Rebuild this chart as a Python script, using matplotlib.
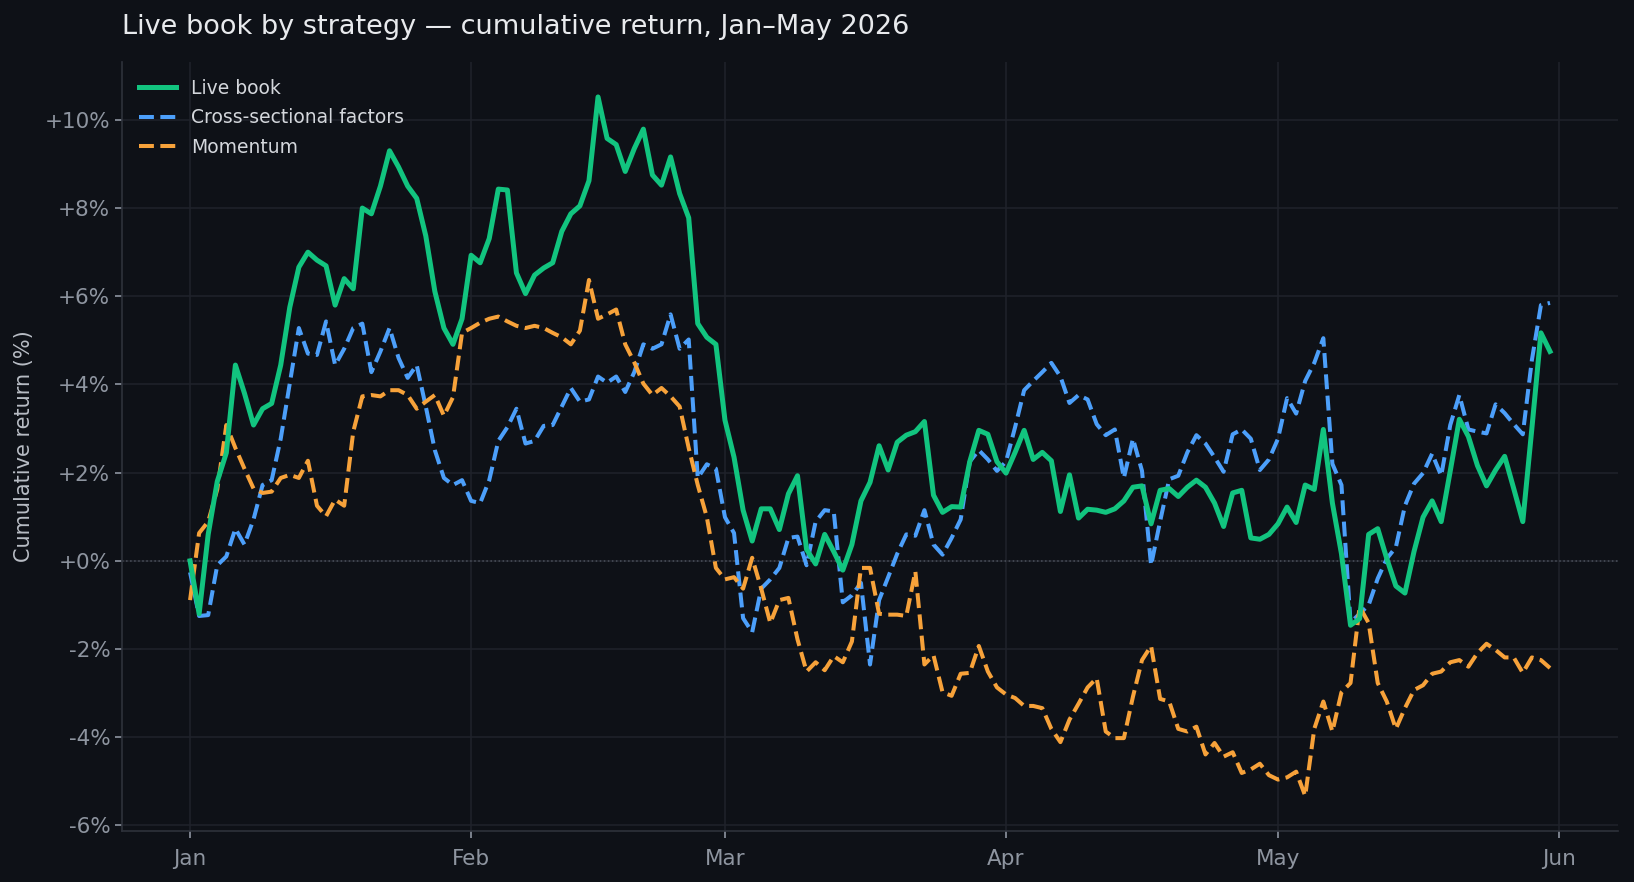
import pandas as pd
import matplotlib
matplotlib.use("Agg")
import matplotlib.pyplot as plt
import matplotlib.dates as mdates
from matplotlib.ticker import FuncFormatter

# daily cumulative returns (%), Jan 1 - May 31 2026
dates = pd.date_range("2026-01-01", "2026-05-31", freq="D")

live_book = [
    0.0, -1.2, 0.6, 1.8, 2.45, 4.44, 3.8, 3.08, 3.45, 3.57,
    4.44, 5.75, 6.66, 7.0, 6.82, 6.69, 5.8, 6.4, 6.17, 8.0,
    7.87, 8.5, 9.3, 8.93, 8.5, 8.22, 7.37, 6.11, 5.28, 4.91,
    5.49, 6.93, 6.76, 7.31, 8.43, 8.41, 6.53, 6.06, 6.48, 6.64,
    6.76, 7.47, 7.87, 8.05, 8.62, 10.52, 9.58, 9.44, 8.83, 9.35,
    9.79, 8.75, 8.52, 9.16, 8.33, 7.78, 5.38, 5.07, 4.91, 3.19,
    2.35, 1.15, 0.45, 1.18, 1.18, 0.71, 1.52, 1.93, 0.26, -0.07,
    0.6, 0.21, -0.21, 0.37, 1.36, 1.78, 2.61, 2.06, 2.69, 2.85,
    2.93, 3.16, 1.49, 1.10, 1.23, 1.22, 2.25, 2.96, 2.87, 2.25,
    1.99, 2.46, 2.96, 2.30, 2.46, 2.27, 1.12, 1.95, 0.97, 1.17,
    1.15, 1.10, 1.18, 1.36, 1.67, 1.70, 0.84, 1.60, 1.64, 1.46,
    1.67, 1.83, 1.67, 1.31, 0.78, 1.54, 1.60, 0.52, 0.49, 0.60,
    0.84, 1.22, 0.87, 1.72, 1.62, 2.98, 1.31, 0.16, -1.46, -1.31,
    0.60, 0.73, 0.05, -0.57, -0.73, 0.21, 0.99, 1.36, 0.89, 2.04,
    3.21, 2.82, 2.16, 1.70, 2.06, 2.37, 1.64, 0.89, 3.0, 5.17,
    4.75,
]

cross_sectional = [
    -0.26, -1.25, -1.23, -0.1, 0.1, 0.73, 0.37, 0.94, 1.72, 1.83,
    2.77, 4.02, 5.28, 4.70, 4.67, 5.43, 4.44, 4.81, 5.28, 5.38,
    4.28, 4.75, 5.28, 4.60, 4.15, 4.44, 3.5, 2.51, 1.88, 1.72,
    1.83, 1.36, 1.31, 1.83, 2.72, 3.03, 3.45, 2.66, 2.72, 3.06,
    3.08, 3.50, 3.92, 3.61, 3.66, 4.18, 4.04, 4.18, 3.83, 4.28,
    4.91, 4.81, 4.91, 5.59, 4.81, 5.02, 1.88, 2.19, 2.09, 0.99,
    0.63, -1.3, -1.62, -0.63, -0.42, -0.16, 0.52, 0.55, -0.10, 0.89,
    1.15, 1.12, -0.94, -0.78, -0.5, -2.35, -0.89, -0.37, 0.16, 0.60,
    0.57, 1.15, 0.37, 0.14, 0.52, 0.94, 2.25, 2.51, 2.30, 2.04,
    2.25, 3.03, 3.87, 4.08, 4.28, 4.49, 4.18, 3.58, 3.76, 3.66,
    3.1, 2.85, 2.98, 1.88, 2.77, 2.04, -0.10, 0.9, 1.85, 1.93,
    2.46, 2.85, 2.66, 2.35, 2.02, 2.87, 2.98, 2.77, 2.06, 2.30,
    2.77, 3.69, 3.34, 4.08, 4.49, 5.05, 2.2, 1.72, -1.4, -1.2,
    -1.0, -0.4, 0.05, 0.31, 1.25, 1.75, 1.99, 2.43, 1.93, 3.08,
    3.76, 2.98, 2.93, 2.89, 3.55, 3.35, 3.1, 2.87, 4.55, 5.8,
    5.85,
]

momentum = [
    -0.89, 0.63, 0.89, 1.62, 3.08, 2.56, 2.09, 1.64, 1.54, 1.57,
    1.88, 1.95, 1.88, 2.27, 1.25, 1.01, 1.39, 1.25, 2.93, 3.73,
    3.76, 3.73, 3.87, 3.87, 3.76, 3.45, 3.61, 3.76, 3.29, 3.71,
    5.17, 5.28, 5.40, 5.49, 5.54, 5.43, 5.33, 5.28, 5.33, 5.28,
    5.17, 5.07, 4.91, 5.22, 6.37, 5.49, 5.59, 5.70, 4.91, 4.5,
    4.02, 3.76, 3.92, 3.73, 3.50, 2.56, 1.72, 0.99, -0.16, -0.42,
    -0.37, -0.63, 0.07, -0.63, -1.41, -0.89, -0.84, -1.78, -2.51, -2.30,
    -2.48, -2.16, -2.30, -1.83, -0.16, -0.16, -1.2, -1.22, -1.22, -1.25,
    -0.24, -2.35, -2.14, -2.98, -3.06, -2.56, -2.54, -1.93, -2.51, -2.87,
    -3.03, -3.11, -3.29, -3.29, -3.34, -3.81, -4.11, -3.60, -3.24, -2.87,
    -2.66, -3.87, -4.02, -4.02, -3.08, -2.25, -1.93, -3.13, -3.19, -3.81,
    -3.87, -3.76, -4.39, -4.13, -4.44, -4.34, -4.81, -4.73, -4.60, -4.86,
    -4.96, -4.91, -4.78, -5.33, -3.81, -3.19, -3.87, -2.98, -2.77, -1.04,
    -1.41, -2.77, -3.19, -3.81, -3.34, -2.93, -2.82, -2.56, -2.51, -2.30,
    -2.25, -2.40, -2.09, -1.88, -2.02, -2.19, -2.19, -2.54, -2.19, -2.25,
    -2.43,
]

series_labels = ["Live book", "Cross-sectional factors", "Momentum"]
y_ticks = [-6, -4, -2, 0, 2, 4, 6, 8, 10]

BG = "#0e1117"
GRID = "#1f232b"
SPINE = "#2e323b"
TICK_TXT = "#8e95a0"


def style_axes(ax):
    ax.set_facecolor(BG)
    for side in ["top", "right"]:
        ax.spines[side].set_visible(False)
    for side in ["left", "bottom"]:
        ax.spines[side].set_color(SPINE)
        ax.spines[side].set_linewidth(1.2)
    ax.grid(True, color=GRID, linewidth=1.1)
    ax.set_axisbelow(True)
    ax.tick_params(colors=TICK_TXT, labelsize=15.5, length=5, width=1.2)
    for t in ax.get_xticklines() + ax.get_yticklines():
        t.set_color("#6b717c")


def main():
    fig = plt.figure(figsize=(16.34, 8.82), dpi=100, facecolor=BG)
    ax = fig.add_axes([0.0747, 0.058, 0.9155, 0.8717])
    style_axes(ax)

    df = pd.DataFrame({
        "live": live_book,
        "xs": cross_sectional,
        "mom": momentum,
    }, index=dates)

    ax.axhline(0, color="#4b505b", linewidth=1.1, linestyle=":", zorder=1)
    ax.plot(df.index, df["live"], color="#12c47f", linewidth=3.6, label=series_labels[0], zorder=4)
    ax.plot(df.index, df["xs"], color="#4c9ffa", linewidth=2.9, linestyle="--", label=series_labels[1], zorder=3)
    ax.plot(df.index, df["mom"], color="#f7a23a", linewidth=2.9, linestyle="--", label=series_labels[2], zorder=3)

    ax.set_yticks(y_ticks)
    ax.yaxis.set_major_formatter(FuncFormatter(lambda v, p: f"{v:+.0f}%"))
    ax.xaxis.set_major_locator(mdates.MonthLocator())
    ax.xaxis.set_major_formatter(mdates.DateFormatter("%b"))
    ax.tick_params(axis="x", pad=8)

    ax.set_ylabel("Cumulative return (%)", color="#b8bdc5", fontsize=15, labelpad=8)
    ax.set_title("Live book by strategy \u2014 cumulative return, Jan\u2013May 2026",
                 loc="left", color="#e8eaed", fontsize=19.5, pad=20)

    leg = ax.legend(loc="upper left", frameon=False, fontsize=13.5,
                    borderaxespad=0.5, labelspacing=0.55)
    for txt in leg.get_texts():
        txt.set_color("#d4d7dc")

    fig.savefig("out.png", dpi=100, facecolor=BG)


if __name__ == "__main__":
    main()
